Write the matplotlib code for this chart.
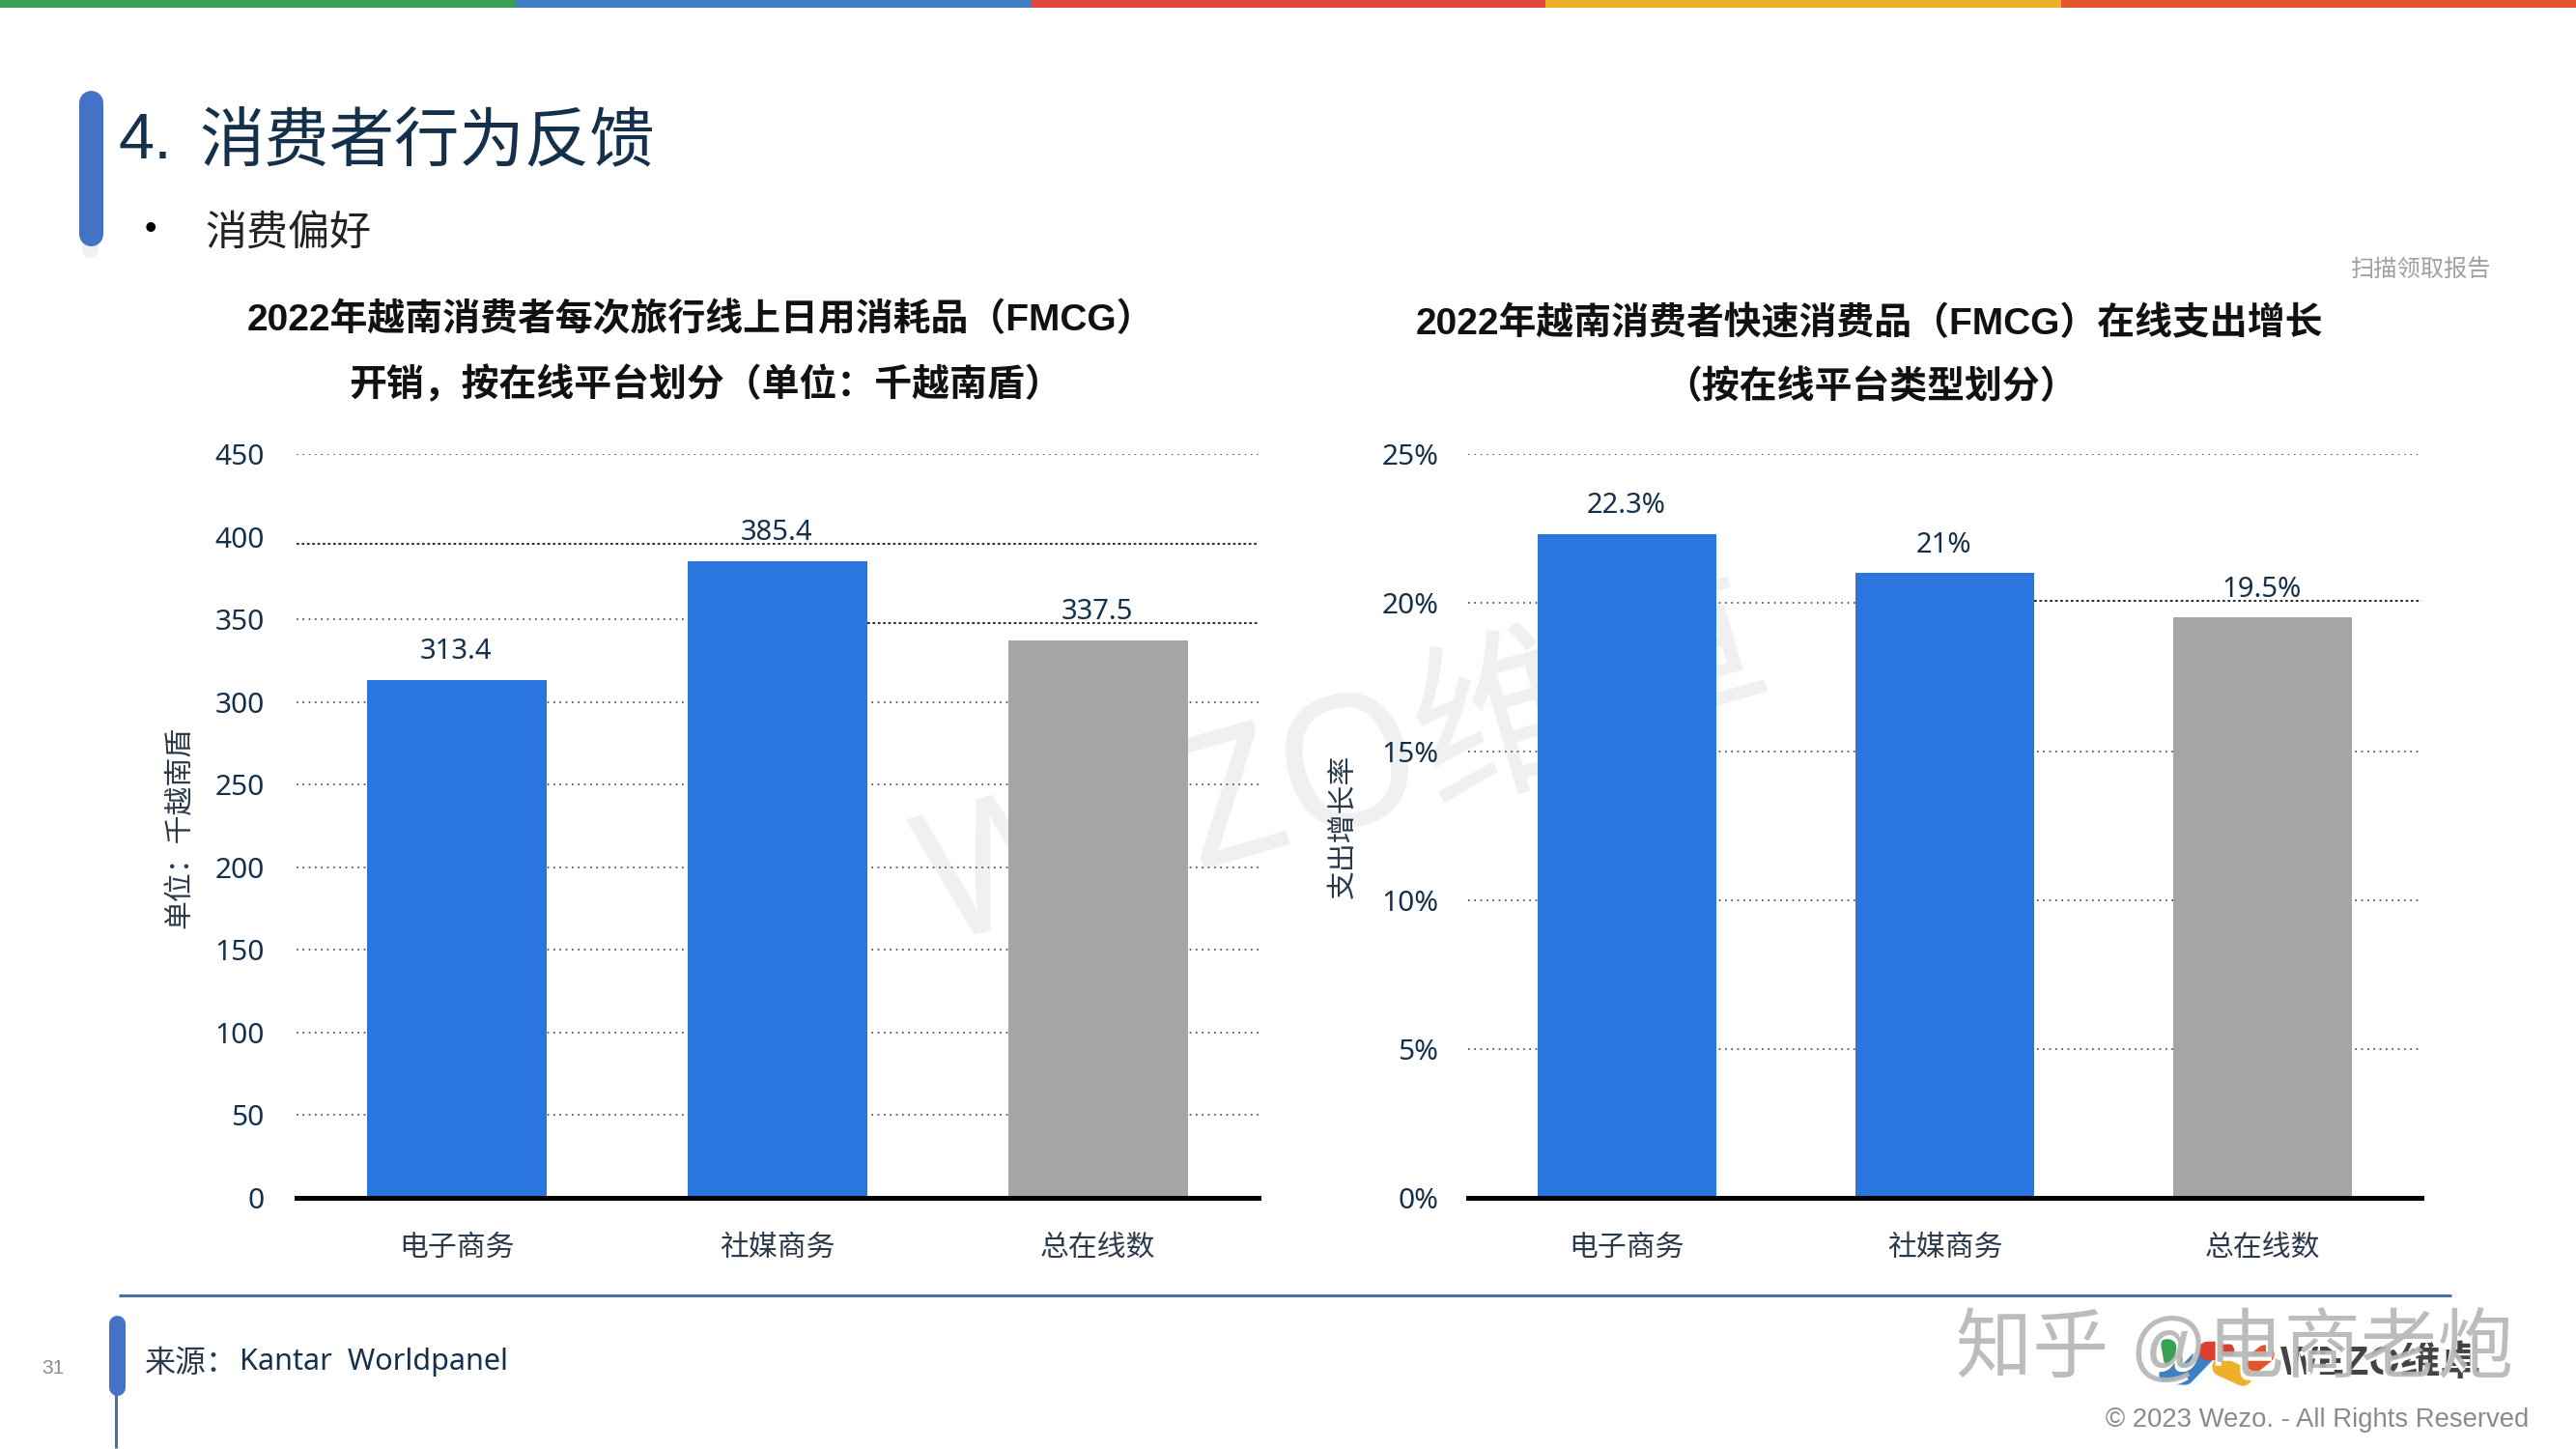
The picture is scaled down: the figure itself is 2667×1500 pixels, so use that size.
import matplotlib
matplotlib.use("Agg")
import matplotlib.pyplot as plt
from matplotlib.patches import Rectangle

CJK = "Noto Sans CJK SC"
LATIN = "Noto Sans"
ARIAL = "Liberation Sans"

categories = ["电子商务", "社媒商务", "总在线数"]

spend_values = [313.4, 385.4, 337.5]
spend_labels = ["313.4", "385.4", "337.5"]
spend_ticks = [0, 50, 100, 150, 200, 250, 300, 350, 400, 450]

growth_values = [22.3, 21.0, 19.5]
growth_labels = ["22.3%", "21%", "19.5%"]
growth_ticks = [0, 5, 10, 15, 20, 25]
growth_tick_labels = ["0%", "5%", "10%", "15%", "20%", "25%"]

bar_colors = ["#2a75de", "#2a75de", "#a5a5a5"]
top_strip = ["#3aa055", "#3f7fc4", "#e0483a", "#ecb02a", "#e2552c"]

W, H = 2667, 1500
NAVY = "#14304a"
TXT = "#2b3a4a"


def add_bar(bg, x0, y0, x1, y1, color):
    # round capped line, width given in pixels
    w = x1 - x0
    bg.plot([(x0 + x1) / 2] * 2, [y0 + w / 2, y1 - w / 2], color=color, lw=w * 0.72,
            solid_capstyle="round", zorder=2)


def grid_line(ax, y, x0, x1, dense=False):
    if dense:
        ax.hlines(y, x0, x1, color="#333333", lw=1.5, linestyle=(0, (1.3, 1.3)), zorder=1)
    else:
        ax.hlines(y, x0, x1, color="#444444", lw=1.2, linestyle=(0, (1, 2.8)), zorder=1)


def draw_chart(fig, box, values, labels, ticks, tick_labels, ymax, pad, bar_w):
    x0, y0, x1, y1 = box
    ax = fig.add_axes([x0 / W, 1 - y1 / H, (x1 - x0) / W, (y1 - y0) / H])
    ax.patch.set_alpha(0)
    ax.bar(range(3), values, width=bar_w, color=bar_colors, zorder=3)
    ax.set_xlim(-0.5, 2.5)
    ax.set_ylim(0, ymax)
    ax.set_xticks(range(3))
    ax.set_xticklabels(categories, family=[CJK], fontsize=21.5, color=TXT)
    ax.set_yticks(ticks)
    ax.set_yticklabels(tick_labels, family=[LATIN], fontsize=21.5, color=NAVY)
    ax.tick_params(axis="y", length=0, pad=pad)
    ax.tick_params(axis="x", length=0, pad=26)
    for s in ["top", "left", "right"]:
        ax.spines[s].set_visible(False)
    ax.spines["bottom"].set_linewidth(3.6)
    ax.spines["bottom"].set_color("black")
    ax.spines["bottom"].set_zorder(5)
    for i, v in enumerate(values):
        ax.annotate(labels[i], (i, v), xytext=(-1, 21), textcoords="offset points",
                    ha="center", va="center", family=[LATIN], fontsize=21, color=NAVY, zorder=6)
    return ax


def main():
    fig = plt.figure(figsize=(W / 100, H / 100), dpi=100, facecolor="white")

    bg = fig.add_axes([0, 0, 1, 1])
    bg.set_xlim(0, W)
    bg.set_ylim(H, 0)
    bg.axis("off")

    # colour strip on top
    step = W / len(top_strip)
    for i, c in enumerate(top_strip):
        bg.add_patch(Rectangle((i * step, 0), step, 8, fc=c, ec="none"))

    # watermark behind the charts
    bg.text(1395, 806, "WEZO维卓", family=[LATIN, CJK], fontsize=135, color="#f0f0f0",
            rotation=16, ha="center", va="center", rotation_mode="anchor", zorder=0)

    # title block
    bg.plot([93, 93], [250, 258], color="#eef0f4", lw=12, solid_capstyle="round", zorder=1)
    add_bar(bg, 81, 93, 106, 254, "#4472c4")
    bg.text(122, 147, "4.", family=[ARIAL], fontsize=48, color=NAVY, va="center")
    bg.text(206, 147, "消费者行为反馈", family=[CJK], fontsize=48.5, color=NAVY, va="center", weight="light")
    bg.text(156, 238, "•", family=[ARIAL], fontsize=26, color="black", ha="center", va="center")
    bg.text(212, 242, "消费偏好", family=[CJK], fontsize=31, color="#222222", va="center", weight="light")
    bg.text(2579, 279, "扫描领取报告", family=[CJK], fontsize=17.5, color="#a0a0a0", ha="right", va="center")

    # chart headings
    head = dict(family=[ARIAL, CJK], fontsize=28, weight="bold", color="#111111", ha="center", va="center")
    bg.text(725, 331, "2022年越南消费者每次旅行线上日用消耗品（FMCG）", **head)
    bg.text(731, 398, "开销，按在线平台划分（单位：千越南盾）", **head)
    bg.text(1935, 335, "2022年越南消费者快速消费品（FMCG）在线支出增长", **head)
    bg.text(1937, 401, "（按在线平台类型划分）", **head)

    # left chart
    ax = draw_chart(fig, (307, 470, 1303, 1240), spend_values, spend_labels,
                    spend_ticks, [str(t) for t in spend_ticks], 450, 24, 0.56)
    for t in spend_ticks[1:]:
        if t == 400:
            grid_line(ax, 395.7, -0.5, 2.5, dense=True)
        elif t == 350:
            grid_line(ax, t, -0.5, 0.72)
            grid_line(ax, 348, 1.28, 2.5, dense=True)
        else:
            grid_line(ax, t, -0.5, 2.5)

    # right chart
    ax = draw_chart(fig, (1520, 470, 2507, 1240), growth_values, growth_labels,
                    growth_ticks, growth_tick_labels, 25, 22, 0.56)
    for t in growth_ticks[1:]:
        if t == 20:
            grid_line(ax, t, -0.5, 0.72)
            grid_line(ax, 20.08, 1.28, 2.5, dense=True)
        else:
            grid_line(ax, t, -0.5, 2.5)

    bg.text(186, 856, "单位：千越南盾", family=[CJK], fontsize=21.5, color=TXT,
            rotation=90, ha="center", va="center")
    bg.text(1390, 855, "支出增长率", family=[CJK], fontsize=21.5, color=TXT,
            rotation=90, ha="center", va="center")

    # footer
    bg.plot([123, 2538], [1341, 1341], color="#4a6fa8", lw=2.2, solid_capstyle="butt")
    bg.plot([120, 120], [1440, 1499], color="#4a6fa8", lw=2.2, solid_capstyle="butt")
    add_bar(bg, 112, 1361, 129, 1444, "#4472c4")
    bg.text(55, 1416, "31", family=[ARIAL], fontsize=15, color="#8c8c8c", ha="center", va="center")
    bg.text(150, 1411, "来源：", family=[CJK], fontsize=23, color=TXT, va="center", weight="light")
    bg.text(248, 1410, "Kantar  Worldpanel", family=[LATIN], fontsize=22, color=NAVY, va="center")
    bg.text(2618, 1470, "© 2023 Wezo. - All Rights Reserved", family=[ARIAL], fontsize=19.8,
            color="#8a8a8a", ha="right", va="center")

    # logo
    bg.plot([2247, 2250], [1392, 1408], color="#3aa055", lw=14, solid_capstyle="round", zorder=2)
    bg.plot([2245, 2262, 2285], [1423, 1424, 1400], color="#3f7fc4", lw=14, solid_capstyle="round", zorder=2)
    bg.plot([2285, 2303], [1398, 1398], color="#d8412f", lw=14, solid_capstyle="round", zorder=2)
    bg.plot([2300, 2322], [1415, 1425], color="#ecb02a", lw=14, solid_capstyle="round", zorder=2)
    bg.plot([2335, 2345], [1410, 1402], color="#e2552c", lw=14, solid_capstyle="round", zorder=2)
    bg.text(2465, 1412, "WEZO维卓", family=[ARIAL, CJK], fontsize=30, weight="bold", color="#444444",
            ha="center", va="center", zorder=2)

    # zhihu mark over everything
    mark = dict(family=[ARIAL, CJK], fontsize=57, ha="center", va="center", zorder=3)
    bg.text(2312, 1402, "知乎 @电商老炮", color="white", **mark)
    bg.text(2314, 1398, "知乎 @电商老炮", color="#b5b5b5", alpha=0.9, **mark)

    fig.savefig("out.png", dpi=100)


if __name__ == "__main__":
    main()
